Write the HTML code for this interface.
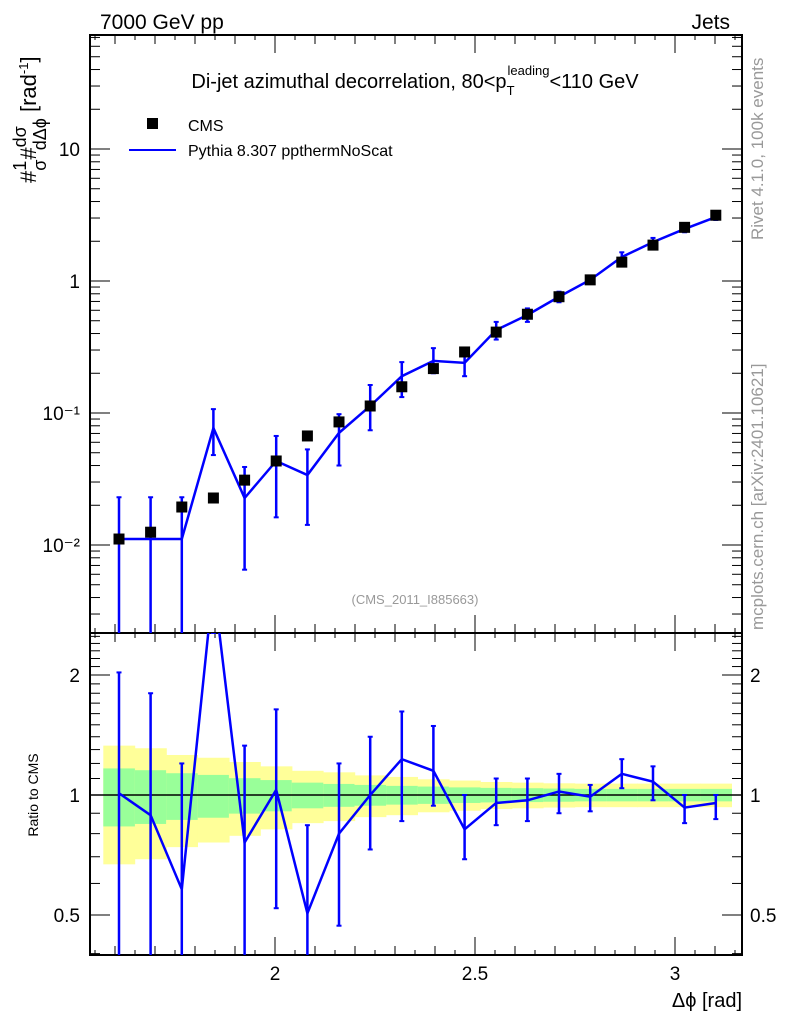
<!DOCTYPE html>
<html><head><meta charset="utf-8"><style>
body{margin:0;background:#fff;}
svg{display:block;font-family:"Liberation Sans",sans-serif;}
</style></head><body>
<svg id="chart" width="786" height="1024" xmlns="http://www.w3.org/2000/svg">
<text x="100" y="29" font-size="21">7000 GeV pp</text>
<text x="730" y="29" font-size="21" text-anchor="end">Jets</text>
<text x="415" y="88" font-size="20" text-anchor="middle">Di-jet azimuthal decorrelation, 80&lt;p<tspan font-size="13" dy="7">T</tspan><tspan font-size="13" dy="-20" dx="-7">leading</tspan><tspan dy="13">&lt;110 GeV</tspan></text>
<rect x="147" y="118" width="11" height="11" fill="#000"/>
<text x="188" y="131" font-size="16">CMS</text>
<line x1="129" y1="150" x2="176" y2="150" stroke="#0000ff" stroke-width="2"/>
<text x="188" y="156" font-size="16">Pythia 8.307 ppthermNoScat</text>
<text transform="translate(36,183) rotate(-90)" font-size="22">#<tspan font-size="18" dy="-10">1</tspan><tspan font-size="18" dx="-10" dy="20">σ</tspan><tspan dy="-10">#</tspan><tspan font-size="18" dy="-10">dσ</tspan><tspan font-size="18" dx="-24" dy="20">dΔϕ</tspan><tspan dy="-10"> [rad</tspan><tspan font-size="13" dy="-8">-1</tspan><tspan dy="8">]</tspan></text>
<text transform="translate(38,795) rotate(-90)" font-size="14" text-anchor="middle">Ratio to CMS</text>
<text x="415" y="604" font-size="13" fill="#999" text-anchor="middle">(CMS_2011_I885663)</text>
<text transform="translate(763,240) rotate(-90)" font-size="17" fill="#999">Rivet 4.1.0,  100k events</text>
<text transform="translate(763,630) rotate(-90)" font-size="17" fill="#999">mcplots.cern.ch [arXiv:2401.10621]</text>
<text x="742" y="1007" font-size="20" text-anchor="end">Δϕ [rad]</text>
<g id="plot"></g>
</svg>
<script>
const xCenters=[1.61,1.689,1.767,1.846,1.924,2.003,2.081,2.16,2.238,2.317,2.396,2.474,2.553,2.631,2.71,2.788,2.867,2.945,3.024,3.102];
const cmsValues=[0.0111,0.0125,0.0194,0.0227,0.031,0.0433,0.067,0.0856,0.113,0.158,0.217,0.29,0.41,0.56,0.76,1.02,1.39,1.87,2.55,3.15];
const mcValues=[0.0111,0.0111,0.0111,0.077,0.0227,0.0433,0.0339,0.0707,0.113,0.19,0.248,0.24,0.425,0.553,0.76,1.02,1.52,1.97,2.48,3.05];
const mcHigh=[0.023,0.023,0.023,0.107,0.039,0.067,0.053,0.098,0.163,0.243,0.31,0.29,0.49,0.62,0.83,1.09,1.65,2.12,2.62,3.2];
const mcLow=[0.0001,0.0001,0.0001,0.048,0.0065,0.0162,0.0142,0.040,0.074,0.132,0.2,0.19,0.36,0.49,0.69,0.95,1.4,1.82,2.34,2.9];
const ratioValues=[1.01,0.89,0.58,3.4,0.76,1.03,0.505,0.8,1.0,1.23,1.15,0.82,0.955,0.97,1.02,0.99,1.13,1.08,0.93,0.955];
const ratioHigh=[2.03,1.8,1.2,4,1.33,1.64,0.84,1.2,1.4,1.62,1.49,1.0,1.1,1.1,1.13,1.06,1.23,1.18,1.0,1.0];
const ratioLow=[0.3,0.3,0.3,3,0.3,0.52,0.3,0.47,0.73,0.86,0.94,0.69,0.84,0.86,0.9,0.91,1.04,0.97,0.85,0.87];
const yellowErr=[0.33,0.31,0.26,0.24,0.21,0.18,0.15,0.14,0.12,0.11,0.095,0.087,0.078,0.074,0.07,0.068,0.068,0.068,0.068,0.068];
const greenErr=[0.166,0.154,0.134,0.123,0.102,0.09,0.074,0.066,0.06,0.054,0.05,0.045,0.042,0.04,0.038,0.036,0.036,0.036,0.036,0.036];
const mainYTicks=[0.01,0.1,1,10];
const mainYLabels=["10⁻²","10⁻¹","1","10"];
const ratioYTicks=[0.5,1,2];
const ratioYLabels=["0.5","1","2"];
const xTicks=[2,2.5,3];
const xLabels=["2","2.5","3"];

const L=90,R=742,T=35,M=633,B=955;
const X=v=>275+(v-2)*400;
const Y=v=>281-Math.log10(v)*132;
const YR=v=>795-Math.log2(v)*120;
const binW=0.0785;
const NS="http://www.w3.org/2000/svg";
const g=document.getElementById('plot');
function mk(tag,attrs,parent){const e=document.createElementNS(NS,tag);for(const k in attrs)e.setAttribute(k,attrs[k]);(parent||g).appendChild(e);return e;}
const clampM=y=>Math.max(T,Math.min(M,y));
const clampR=y=>Math.max(M,Math.min(B,y));

const bands=mk('g',{});


xCenters.forEach((c,i)=>{
  const x0=X(c-binW/2),x1=X(c+binW/2);
  const ry=mk('rect',{x:x0,y:YR(1+yellowErr[i]),width:x1-x0+0.5,height:YR(1-yellowErr[i])-YR(1+yellowErr[i]),fill:'#ffff99'},bands);
  
  
  const rg=mk('rect',{x:x0,y:YR(1+greenErr[i]),width:x1-x0+0.5,height:YR(1-greenErr[i])-YR(1+greenErr[i]),fill:'#99ff99'},bands);
  
  
});
const one=mk('line',{x1:L,x2:R,y1:YR(1),y2:YR(1),stroke:'#000','stroke-width':1.5});



const f1=mk('rect',{x:L,y:T,width:R-L,height:M-T,fill:'none',stroke:'#000','stroke-width':2});


const f2=mk('rect',{x:L,y:M,width:R-L,height:B-M,fill:'none',stroke:'#000','stroke-width':2});



const xt=mk('g',{stroke:'#000','stroke-width':1});


for(let k=31;k<=63;k++){
  const v=k*0.05,x=X(v); if(x<L||x>R)continue;
  const len=(k%10==0)?18:(k%2==0?9:5);
  [[T,1],[M,-1],[M,1],[B,-1]].forEach(([y0,d])=>mk('line',{x1:x,x2:x,y1:y0,y2:y0+d*len},xt));
}
xTicks.forEach((v,i)=>{const t=mk('text',{x:X(v),y:980,'font-size':19,'text-anchor':'middle'});t.textContent=xLabels[i];

});

const yt=mk('g',{stroke:'#000','stroke-width':1});


for(let e=-3;e<=1;e++)for(let m=1;m<=9;m++){
  const y=Y(m*Math.pow(10,e)); if(y<T||y>M)continue;
  const len=m==1?20:10;
  mk('line',{x1:L,x2:L+len,y1:y,y2:y},yt);mk('line',{x1:R,x2:R-len,y1:y,y2:y},yt);
}
mainYTicks.forEach((v,i)=>{const t=mk('text',{x:80,y:Y(v)+7,'font-size':19,'text-anchor':'end'});t.textContent=mainYLabels[i];

});

const rt=mk('g',{stroke:'#000','stroke-width':1});


for(let k=4;k<=25;k++){
  const v=k/10,y=YR(v); if(y<M||y>B)continue;
  const len=(v==0.5||v==1||v==2)?20:10;
  mk('line',{x1:L,x2:L+len,y1:y,y2:y},rt);mk('line',{x1:R,x2:R-len,y1:y,y2:y},rt);
}
ratioYTicks.forEach((v,i)=>{
  const t=mk('text',{x:80,y:YR(v)+7,'font-size':19,'text-anchor':'end'});t.textContent=ratioYLabels[i];
  
  
  const t2=mk('text',{x:750,y:YR(v)+7,'font-size':19});t2.textContent=ratioYLabels[i];
  
  
});

const clipM=mk('clipPath',{id:'cm'});mk('rect',{x:L,y:T,width:R-L,height:M-T},clipM);
const clipR=mk('clipPath',{id:'cr'});mk('rect',{x:L,y:M,width:R-L,height:B-M},clipR);
const mc=mk('g',{'clip-path':'url(#cm)',stroke:'#0000ff','stroke-width':2.5,fill:'none'});


xCenters.forEach((c,i)=>{
  const x=X(c),y1=clampM(Y(mcHigh[i])),y2=clampM(Y(mcLow[i]));
  const eb=mk('line',{x1:x,x2:x,y1:y1,y2:y2},mc);
  
  
  mk('line',{x1:x-2.5,x2:x+2.5,y1:y1,y2:y1,'stroke-width':2},mc);
  if(y2<M)mk('line',{x1:x-2.5,x2:x+2.5,y1:y2,y2:y2,'stroke-width':2},mc);
});
const mcLine=mk('polyline',{points:xCenters.map((c,i)=>X(c)+','+Y(mcValues[i])).join(' ')},mc);



const cms=mk('g',{fill:'#000'});


xCenters.forEach((c,i)=>{
  const p=mk('rect',{x:X(c)-5.5,y:Y(cmsValues[i])-5.5,width:11,height:11},cms);
  
  
});

const rs=mk('g',{'clip-path':'url(#cr)',stroke:'#0000ff','stroke-width':2.5,fill:'none'});


xCenters.forEach((c,i)=>{
  const x=X(c),y1=clampR(YR(ratioHigh[i])),y2=clampR(YR(ratioLow[i]));
  const eb=mk('line',{x1:x,x2:x,y1:y1,y2:y2},rs);
  
  
  if(y1>M)mk('line',{x1:x-2.5,x2:x+2.5,y1:y1,y2:y1,'stroke-width':2},rs);
  if(y2<B)mk('line',{x1:x-2.5,x2:x+2.5,y1:y2,y2:y2,'stroke-width':2},rs);
});
const rl=mk('polyline',{points:xCenters.map((c,i)=>X(c)+','+YR(ratioValues[i])).join(' ')},rs);


</script>
</body></html>
